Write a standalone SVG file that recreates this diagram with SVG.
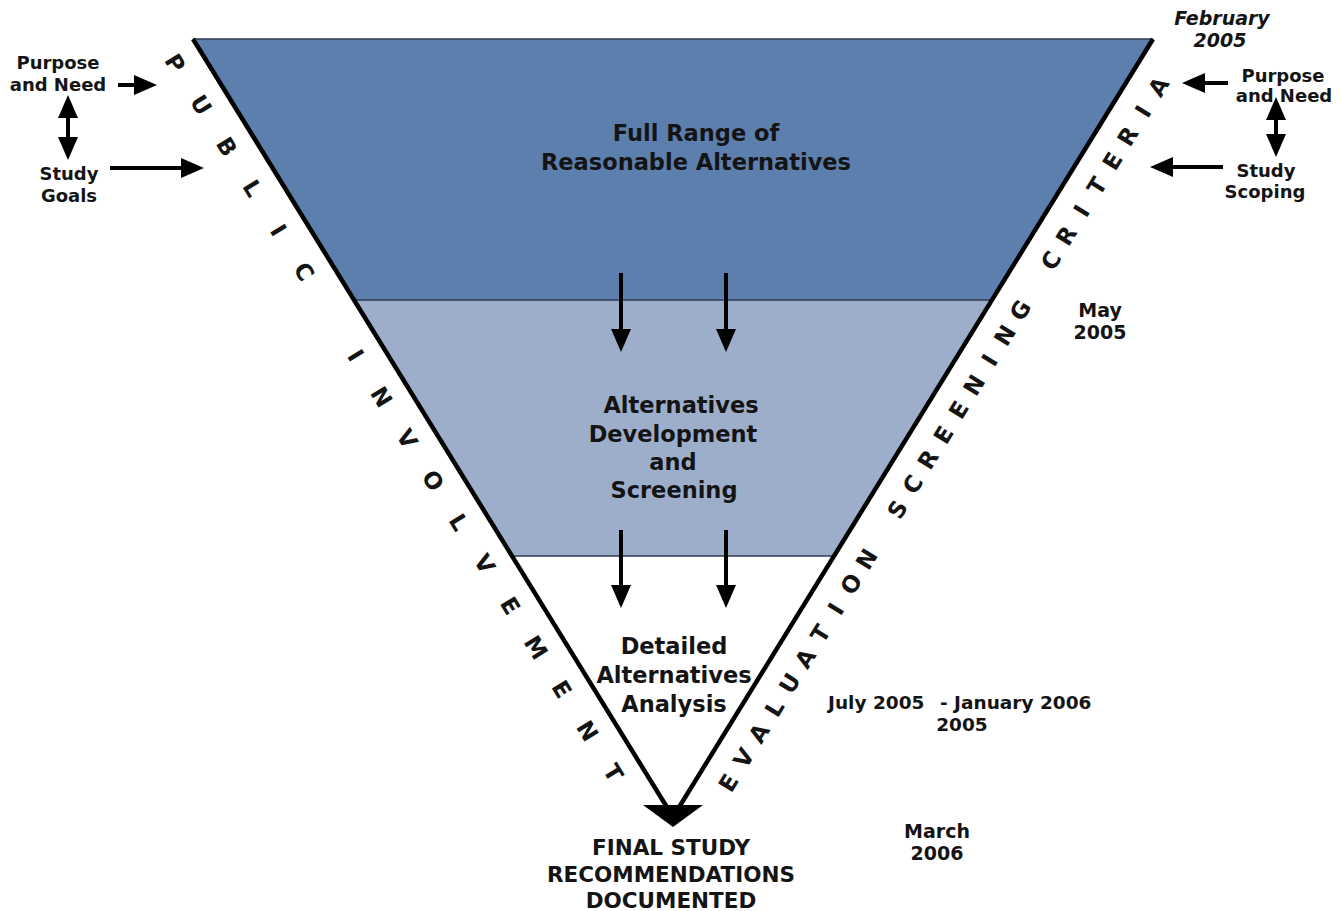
<svg xmlns="http://www.w3.org/2000/svg" width="1341" height="911" viewBox="0 0 1341 911">
<style>
.t{font-family:"DejaVu Sans","Liberation Sans",sans-serif;font-weight:bold;fill:#141414;text-anchor:middle}
.main{font-size:22.5px}
.small{font-size:18px}
.date{font-size:19px}
.side{font-family:"DejaVu Sans","Liberation Sans",sans-serif;font-weight:bold;font-size:23px;fill:#141414;text-anchor:middle;dominant-baseline:central}
.arr{stroke:#000;stroke-width:4;fill:none;marker-end:url(#ah)}
.dbl{stroke:#000;stroke-width:4;fill:none;marker-end:url(#ah);marker-start:url(#ah)}
.edge{stroke:#000;stroke-width:4.5;fill:none}
.sep{stroke:#2e3b55;stroke-width:1.5;fill:none}
</style>
<defs>
<marker id="ah" markerUnits="userSpaceOnUse" markerWidth="23" markerHeight="20" refX="0" refY="10" viewBox="0 0 23 20" orient="auto-start-reverse"><path d="M0,0 L23,10 L0,20 Z" fill="#000"/></marker>
</defs>
<rect width="1341" height="911" fill="#fff"/>

<g id="band-top">
<polygon points="193,39 1153,39 992.5,300 353.5,300" fill="#5c7fae"/>
<text class="t main" x="696" y="141">Full Range of</text>
<text class="t main" x="696" y="170">Reasonable Alternatives</text>
</g>
<g id="band-middle">
<polygon points="353.5,300 992.5,300 834.5,556 511.5,556" fill="#9daecb"/>
<text class="t main" x="681" y="413">Alternatives</text>
<text class="t main" x="673" y="442">Development</text>
<text class="t main" x="673" y="470">and</text>
<text class="t main" x="674" y="498">Screening</text>
</g>
<g id="band-bottom">
<text class="t main" x="674" y="654">Detailed</text>
<text class="t main" x="674" y="683">Alternatives</text>
<text class="t main" x="674" y="712">Analysis</text>
</g>
<g id="funnel-outline">
<line class="sep" x1="193" y1="39" x2="1153" y2="39"/>
<line class="sep" x1="353.5" y1="300" x2="992.5" y2="300"/>
<line class="sep" x1="511.5" y1="556" x2="834.5" y2="556"/>
<line class="edge" x1="193" y1="39" x2="673" y2="817"/>
<line class="edge" x1="1153" y1="39" x2="673" y2="817"/>
<polygon points="643,805 703,805 673,827" fill="#000"/>
</g>

<g id="public-involvement">
<text class="side" transform="translate(175.1,63.2) rotate(58.3)" x="0 49.05 98.1 147.15 196.2 245.25 294.3 343.35 392.4 441.45 490.5 539.55 588.6 637.65 686.7 735.75 784.8 833.85" y="0">PUBLIC INVOLVEMENT</text>
</g>
<g id="evaluation-screening-criteria">
<text class="side" transform="translate(728.5,782.9) rotate(-58.3)" x="0 29.2 58.5 87.7 116.9 146.2 175.4 204.6 233.8 263.1 292.3 321.5 350.8 380 409.2 438.5 467.7 496.9 526.1 555.4 584.6 613.8 643.1 672.3 701.5 730.8 760 789.2 818.4" y="0">EVALUATION SCREENING CRITERIA</text>
</g>

<g id="left-inputs">
<text class="t small" x="58" y="69">Purpose</text>
<text class="t small" x="58" y="91">and Need</text>
<text class="t small" x="69" y="180">Study</text>
<text class="t small" x="69" y="202">Goals</text>
</g>
<g id="right-inputs">
<text class="t small" x="1283" y="82">Purpose</text>
<text class="t small" x="1284" y="102">and Need</text>
<text class="t small" x="1266" y="177">Study</text>
<text class="t small" x="1265" y="198">Scoping</text>
</g>

<g id="dates">
<text class="t date" x="1222" y="25" font-style="italic">February</text>
<text class="t date" x="1220" y="47" font-style="italic">2005</text>
<text class="t date" x="1100" y="317">May</text>
<text class="t date" x="1100" y="339">2005</text>
<text class="t date" style="font-size:18.5px;text-anchor:start"><tspan x="828" y="709">July 2005</tspan><tspan x="940" y="709">- January 2006</tspan></text>
<text class="t date" style="font-size:18.5px" x="962" y="731">2005</text>
<text class="t date" x="937" y="838">March</text>
<text class="t date" x="937" y="860">2006</text>
</g>

<g id="final">
<text class="t" style="font-size:21.5px" x="671" y="855">FINAL STUDY</text>
<text class="t" style="font-size:21.5px" x="671" y="882">RECOMMENDATIONS</text>
<text class="t" style="font-size:21.5px" x="671" y="908">DOCUMENTED</text>
</g>

<g id="connectors">
<line class="arr" x1="118" y1="85" x2="134" y2="85"/>
<line class="arr" x1="110" y1="168" x2="181" y2="168"/>
<line class="dbl" x1="68" y1="118" x2="68" y2="137"/>
<line class="arr" x1="1228" y1="83" x2="1205" y2="83"/>
<line class="arr" x1="1223" y1="167" x2="1173" y2="167"/>
<line class="dbl" x1="1276" y1="120" x2="1276" y2="134"/>
<line class="arr" x1="621" y1="273" x2="621" y2="329"/>
<line class="arr" x1="726" y1="273" x2="726" y2="329"/>
<line class="arr" x1="621" y1="530" x2="621" y2="585"/>
<line class="arr" x1="726" y1="530" x2="726" y2="585"/>
</g>
</svg>
